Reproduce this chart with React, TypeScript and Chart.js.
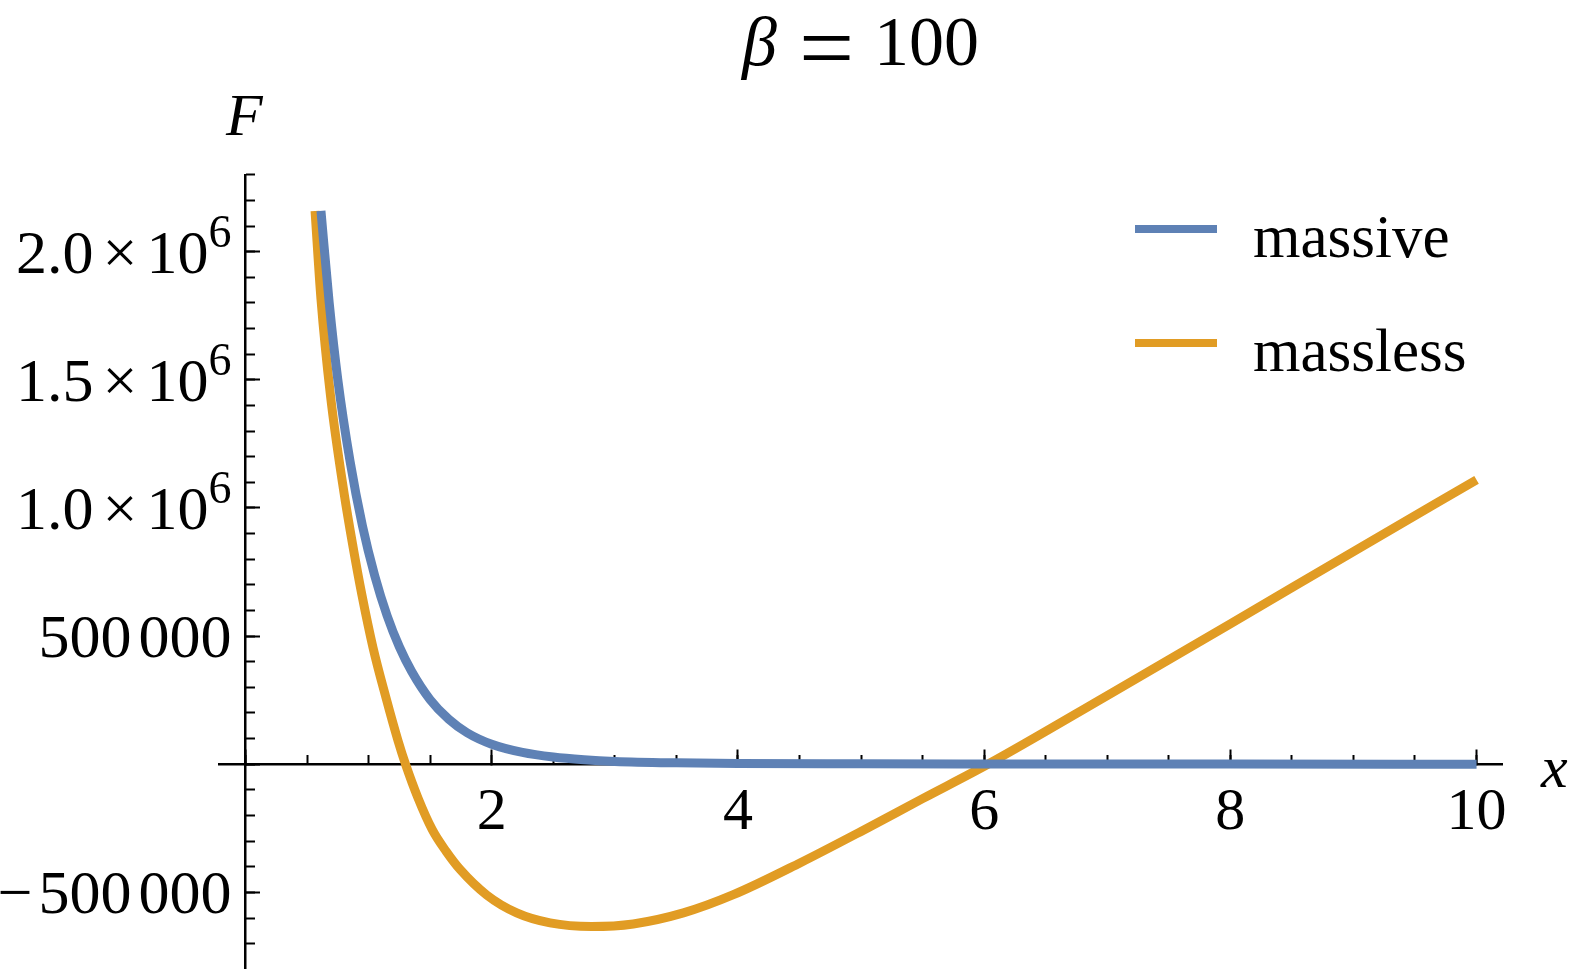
import React, { useEffect, useRef } from 'react';
import { Chart, registerables } from 'chart.js';

Chart.register(...registerables);

// ---- data ----
const SERIES_NAMES = ['massive', 'massless'];
const SERIES_COLORS = ['#5E81B5', '#E19C24'];

const massiveX = [0.613, 0.68, 0.75, 0.85, 0.95, 1.05, 1.15, 1.25, 1.35, 1.5, 1.65, 1.8, 2.0, 2.25, 2.5, 2.75, 3.0, 3.5, 4.0, 5.0, 6.0, 8.0, 10.0];
const massiveF = [2159000, 1800000, 1500000, 1180000, 930000, 735000, 580000, 458000, 362000, 252000, 176000, 123000, 78000, 46000, 28000, 17500, 11000, 5500, 3000, 1500, 1000, 600, 400];

const masslessX = [0.565, 0.613, 0.69, 0.8, 0.873, 0.946, 1.036, 1.141, 1.239, 1.3, 1.4, 1.517, 1.63, 1.742, 1.959, 2.203, 2.474, 2.812, 3.15, 3.557, 3.963, 4.504, 5.0, 5.5, 6.03, 7.0, 8.0, 9.0, 10.0];
const masslessF = [2159000, 1816000, 1440000, 1060000, 850000, 660000, 455000, 260000, 92000, 0, -130000, -255000, -340000, -410000, -510000, -580000, -619000, -633000, -623000, -580000, -509000, -385000, -262000, -134000, 0, 268000, 548000, 830000, 1110000];

const TITLE_SYMBOL = 'β';
const TITLE_EQ = '=';
const TITLE_VALUE = '100';
const X_LABEL = 'x';
const Y_LABEL = 'F';

const X_MIN = -0.21;
const X_MAX = 10.21;
const X_MAJOR = 2;
const X_MINOR = 0.5;
const Y_MIN = -795000;
const Y_MAX = 2300000;
const Y_MAJOR = 500000;
const Y_MINOR = 100000;

const SERIF = '"Liberation Serif", "Times New Roman", serif';

type Seg = { text: string; size: number; gap: number; rise: number };

function tickValues(min: number, max: number, step: number): number[] {
  const out: number[] = [];
  const k0 = Math.ceil(min / step - 1e-9);
  const k1 = Math.floor(max / step + 1e-9);
  for (let k = k0; k <= k1; k++) out.push(Math.round(k * step * 1e6) / 1e6);
  return out;
}

function yTickSegments(v: number): Seg[] {
  if (Math.abs(v) >= 1e6) {
    const exp = Math.floor(Math.log10(Math.abs(v)));
    const mant = (v / Math.pow(10, exp)).toFixed(1);
    return [
      { text: mant, size: 62, gap: 0, rise: 0 },
      { text: '×', size: 62, gap: 9, rise: 0 },
      { text: '10', size: 62, gap: 9, rise: 0 },
      { text: String(exp), size: 46, gap: 0, rise: 26 },
    ];
  }
  const neg = v < 0;
  const s = String(Math.abs(v));
  const groups: string[] = [];
  for (let i = s.length; i > 0; i -= 3) groups.unshift(s.slice(Math.max(0, i - 3), i));
  const segs: Seg[] = [];
  if (neg) segs.push({ text: '\u2212', size: 62, gap: 0, rise: 0 });
  groups.forEach((g, i) => segs.push({ text: g, size: 62, gap: i === 0 ? (neg ? 6 : 0) : 7, rise: 0 }));
  return segs;
}

const textPlugin = {
  id: 'mmaText',
  afterDraw(chart: any) {
    const ctx: CanvasRenderingContext2D = chart.ctx;
    const xs = chart.scales.x;
    const ys = chart.scales.y;
    ctx.save();
    ctx.fillStyle = '#000';
    ctx.textAlign = 'left';
    ctx.textBaseline = 'alphabetic';
    const fontOf = (size: number, italic: boolean) => `${italic ? 'italic ' : ''}${size}px ${SERIF}`;
    const put = (text: string, size: number, italic: boolean, inkLeft: number, baseline: number) => {
      ctx.font = fontOf(size, italic);
      const m = ctx.measureText(text);
      ctx.fillText(text, inkLeft + m.actualBoundingBoxLeft, baseline);
    };

    // title
    put(TITLE_SYMBOL, 70, true, 740, 65);
    {
      ctx.font = fontOf(100, false);
      const m0 = ctx.measureText(TITLE_EQ);
      const inkW0 = m0.actualBoundingBoxLeft + m0.actualBoundingBoxRight;
      const size = (100 * 47) / inkW0;
      ctx.font = fontOf(size, false);
      const m = ctx.measureText(TITLE_EQ);
      const baseline = 47.5 + (m.actualBoundingBoxAscent - m.actualBoundingBoxDescent) / 2;
      ctx.fillText(TITLE_EQ, 803 + m.actualBoundingBoxLeft, baseline);
    }
    put(TITLE_VALUE, 70, false, 880, 65);

    // axis labels
    put(Y_LABEL, 60, true, 225, 135);
    put(X_LABEL, 60, true, 1540, 787);

    // y tick labels
    const x0 = xs.getPixelForValue(0);
    for (const t of ys.ticks) {
      if (t.value === 0) continue;
      const py = ys.getPixelForValue(t.value);
      const segs = yTickSegments(t.value);
      const widths = segs.map((s) => {
        ctx.font = fontOf(s.size, false);
        return ctx.measureText(s.text).width;
      });
      const total = segs.reduce((a, s, i) => a + s.gap + widths[i], 0);
      let cx = x0 - 14 - total;
      segs.forEach((s, i) => {
        cx += s.gap;
        ctx.font = fontOf(s.size, false);
        ctx.fillText(s.text, cx, py + 21 - s.rise);
        cx += widths[i];
      });
    }

    // legend
    chart.data.datasets.forEach((ds: any, i: number) => {
      const ly = 229 + i * 114;
      ctx.strokeStyle = ds.borderColor;
      ctx.lineWidth = 8;
      ctx.lineCap = 'butt';
      ctx.beginPath();
      ctx.moveTo(1135, ly);
      ctx.lineTo(1217, ly);
      ctx.stroke();
      put(ds.label, 61, false, 1254, 257 + i * 113.5);
    });
    ctx.restore();
  },
};

function axisScale(axis: 'x' | 'y', step: number, tickLen: number, showBorder: boolean, labels: boolean) {
  const isX = axis === 'x';
  const min = isX ? X_MIN : Y_MIN;
  const max = isX ? X_MAX : Y_MAX;
  return {
    type: 'linear',
    min,
    max,
    position: isX ? { y: 0 } : { x: 0 },
    z: 1,
    afterBuildTicks: (s: any) => {
      s.ticks = tickValues(min, max, step).map((value) => ({ value }));
    },
    afterFit: (s: any) => {
      if (isX) s.height = 0;
      else s.width = 0;
    },
    border: { display: showBorder, color: '#000', width: 2.5 },
    grid: {
      display: true,
      drawOnChartArea: false,
      drawTicks: true,
      tickLength: tickLen,
      tickColor: '#000',
      tickWidth: 2,
    },
    ticks: {
      display: labels,
      autoSkip: false,
      maxRotation: 0,
      minRotation: 0,
      padding: 34.5,
      color: '#000',
      font: { family: SERIF, size: 60, lineHeight: 1 },
      callback: (v: number) => (v === 0 ? '' : String(v)),
    },
  };
}

export default function App() {
  const ref = useRef<HTMLCanvasElement | null>(null);
  useEffect(() => {
    if (!ref.current) return;
    const mk = (label: string, color: string, xs: number[], ys: number[]) => ({
      label,
      data: xs.map((x, i) => ({ x, y: ys[i] })),
      borderColor: color,
      backgroundColor: color,
      borderWidth: 9,
      showLine: true,
      pointRadius: 0,
      cubicInterpolationMode: 'monotone',
      borderCapStyle: 'butt',
      xAxisID: 'x',
      yAxisID: 'y',
    });
    const chart = new Chart(ref.current, {
      type: 'scatter',
      data: {
        datasets: [
          mk(SERIES_NAMES[0], SERIES_COLORS[0], massiveX, massiveF),
          mk(SERIES_NAMES[1], SERIES_COLORS[1], masslessX, masslessF),
        ],
      },
      options: {
        animation: false,
        responsive: false,
        devicePixelRatio: 1,
        layout: { padding: { left: 219.65, right: 75.6, top: 174.8, bottom: 9 } },
        plugins: { legend: { display: false }, title: { display: false }, tooltip: { enabled: false } },
        scales: {
          x: axisScale('x', X_MAJOR, -16, true, true),
          xMinor: axisScale('x', X_MINOR, -9, false, false),
          y: axisScale('y', Y_MAJOR, -16, true, false),
          yMinor: axisScale('y', Y_MINOR, -9, false, false),
        },
      } as any,
      plugins: [textPlugin],
    } as any);
    return () => chart.destroy();
  }, []);
  return (
    <div style={{ position: 'absolute', left: 0, top: 0, width: 1578, height: 977, background: '#fff' }}>
      <canvas ref={ref} width={1578} height={977} style={{ display: 'block', width: 1578, height: 977 }} />
    </div>
  );
}
